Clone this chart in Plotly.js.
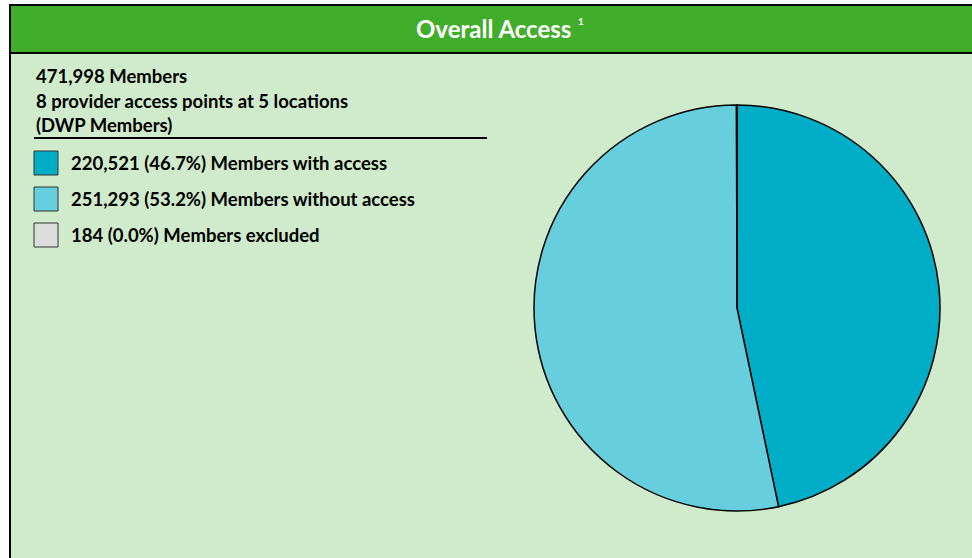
<!DOCTYPE html>
<html>
<head>
<meta charset="utf-8">
<script src="https://cdn.plot.ly/plotly-3.0.1.min.js"></script>
<style>
  body { margin: 0; background: #fff; }
  #chart { width: 972px; height: 558px; }
</style>
</head>
<body>
<div id="chart"></div>
<script>
// data
const labels = ['Members with access', 'Members without access', 'Members excluded'];
const members = [220521, 251293, 184];
const colors = ['#00adc6', '#66cedc', '#dddddd'];
const infoLines = ['471,998 Members', '8 provider access points at 5 locations', '(DWP Members)'];
const title = 'Overall Access';
const titleNote = '1';

const W = 972, H = 558;
const px = x => x / W;
const py = y => 1 - y / H;   // pixel from top -> paper

const total = members.reduce((a, b) => a + b, 0);
const fnt = 'Lato, "Open Sans", sans-serif';

const data = [{
  type: 'pie',
  labels: labels,
  values: members,
  marker: { colors: colors, line: { color: '#000', width: 1.5 } },
  sort: false,
  direction: 'clockwise',
  rotation: 0,
  textinfo: 'none',
  hoverinfo: 'label+value+percent',
  showlegend: false,
  domain: { x: [px(534), px(940)], y: [py(512), py(104)] }
}];

const shapes = [
  // light green panel with black frame
  { type: 'rect', xref: 'paper', yref: 'paper', x0: px(10), x1: px(980), y0: py(566), y1: py(5),
    fillcolor: '#d0ebcb', line: { color: '#000', width: 2 }, layer: 'below' },
  // green header
  { type: 'rect', xref: 'paper', yref: 'paper', x0: px(10), x1: px(980), y0: py(53), y1: py(5),
    fillcolor: '#41ae2b', line: { color: '#000', width: 2 }, layer: 'below' },
  // separator under info text
  { type: 'line', xref: 'paper', yref: 'paper', x0: px(34), x1: px(487), y0: py(138), y1: py(138),
    line: { color: '#000', width: 2 } }
];

const annotations = [
  { text: '<b>' + title + '</b>', xref: 'paper', yref: 'paper', x: px(573), y: py(28),
    xanchor: 'right', yanchor: 'middle', showarrow: false,
    font: { family: fnt, size: 24, color: '#fff' } },
  { text: '<b>' + titleNote + '</b>', xref: 'paper', yref: 'paper', x: px(576), y: py(21),
    xanchor: 'left', yanchor: 'middle', showarrow: false,
    font: { family: fnt, size: 10, color: '#fff' } }
];

infoLines.forEach((t, i) => {
  annotations.push({ text: '<b>' + t + '</b>', xref: 'paper', yref: 'paper',
    x: px(34), y: py(76 + i * 24.5), xanchor: 'left', yanchor: 'middle', showarrow: false,
    font: { family: fnt, size: 18.5, color: '#000' } });
});

labels.forEach((lab, i) => {
  const yc = 163 + i * 36;
  shapes.push({ type: 'rect', xref: 'paper', yref: 'paper', x0: px(34), x1: px(58),
    y0: py(yc + 12), y1: py(yc - 12), fillcolor: colors[i], line: { color: '#333', width: 1 } });
  const pct = (members[i] / total * 100).toFixed(1);
  annotations.push({ text: '<b>' + members[i].toLocaleString('en-US') + ' (' + pct + '%) ' + lab + '</b>',
    xref: 'paper', yref: 'paper', x: px(69), y: py(yc), xanchor: 'left', yanchor: 'middle',
    showarrow: false, font: { family: fnt, size: 18.5, color: '#000' } });
});

const layout = {
  width: W, height: H,
  margin: { l: 0, r: 0, t: 0, b: 0 },
  paper_bgcolor: '#fff',
  shapes: shapes,
  annotations: annotations
};

Plotly.newPlot('chart', data, layout, { displayModeBar: false, staticPlot: true });
</script>
</body>
</html>
